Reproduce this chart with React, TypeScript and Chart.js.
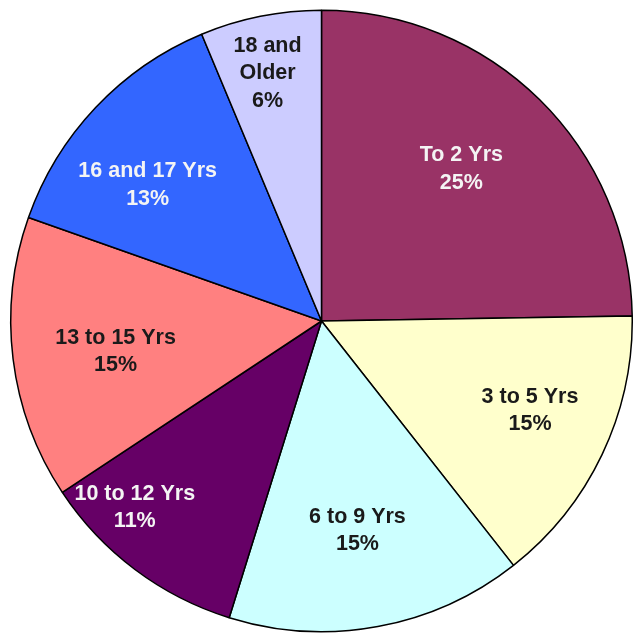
import React, { useEffect, useRef } from "react";
import { Chart, registerables } from "chart.js";

Chart.register(...registerables);

const categories = ["To 2 Yrs", "3 to 5 Yrs", "6 to 9 Yrs", "10 to 12 Yrs", "13 to 15 Yrs", "16 and 17 Yrs", "18 and Older"];
const values = [24.75, 14.65, 15.4, 10.9, 14.7, 13.3, 6.3];
const labelLines = [["To 2 Yrs"], ["3 to 5 Yrs"], ["6 to 9 Yrs"], ["10 to 12 Yrs"], ["13 to 15 Yrs"], ["16 and 17 Yrs"], ["18 and", "Older"]];

const colors = ["#993366", "#FFFFCC", "#CCFFFF", "#660066", "#FF8080", "#3366FF", "#CCCCFF"];
const textColors = ["#f4f4f4", "#1a1a1a", "#1a1a1a", "#f4f4f4", "#1a1a1a", "#f4f4f4", "#1a1a1a"];
// label anchor: fraction along the slice angle, fraction of radius
const labelAngleFrac = [0.478, 0.457, 0.513, 0.706, 0.472, 0.388, 0.458];
const labelRadiusFrac = [0.665, 0.73, 0.685, 0.85, 0.67, 0.71, 0.815];

const labelPlugin = {
  id: "sliceLabels",
  afterDatasetsDraw(chart: any) {
    const ctx = chart.ctx;
    const meta = chart.getDatasetMeta(0);
    const total = values.reduce((a, b) => a + b, 0);
    ctx.save();
    ctx.font = "bold 21.5px 'Liberation Sans', Arial, sans-serif";
    ctx.textAlign = "center";
    ctx.textBaseline = "middle";
    meta.data.forEach((arc: any, i: number) => {
      const p = arc.getProps(["x", "y", "startAngle", "endAngle", "outerRadius"], true);
      const a = p.startAngle + (p.endAngle - p.startAngle) * labelAngleFrac[i];
      const r = p.outerRadius * labelRadiusFrac[i];
      const cx = p.x + Math.cos(a) * r;
      const cy = p.y + Math.sin(a) * r;
      const lines = [...labelLines[i], Math.round((values[i] / total) * 100) + "%"];
      const lh = 27.5;
      ctx.fillStyle = textColors[i];
      lines.forEach((t, k) => {
        ctx.fillText(t, cx, cy + (k - (lines.length - 1) / 2) * lh);
      });
    });
    ctx.restore();
  },
};

export default function App() {
  const ref = useRef<HTMLCanvasElement>(null);
  useEffect(() => {
    if (!ref.current) return;
    const chart = new Chart(ref.current, {
      type: "pie",
      data: {
        labels: categories,
        datasets: [
          {
            data: values,
            backgroundColor: colors,
            borderColor: "#000000",
            borderWidth: 1.5,
          },
        ],
      },
      options: {
        animation: false,
        responsive: true,
        maintainAspectRatio: false,
        layout: { padding: { left: 10, top: 9, right: 0, bottom: 0 } },
        plugins: {
          legend: { display: false },
          tooltip: { enabled: false },
        },
      },
      plugins: [labelPlugin],
    });
    return () => chart.destroy();
  }, []);
  return (
    <div style={{ position: "fixed", left: 0, top: 0, width: 633, height: 633, background: "#fff", overflow: "hidden" }}>
      <canvas ref={ref} />
    </div>
  );
}
